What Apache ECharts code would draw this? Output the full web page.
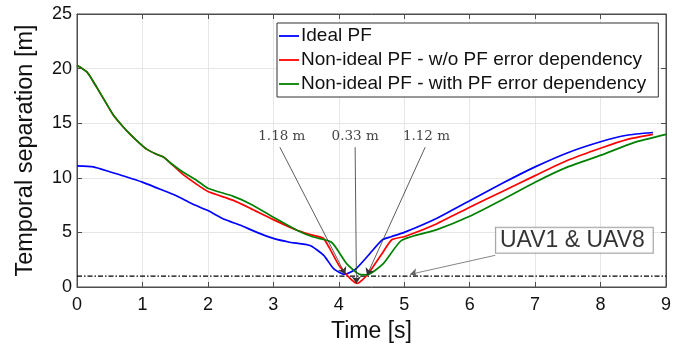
<!DOCTYPE html>
<html>
<head>
<meta charset="utf-8">
<script src="https://cdn.jsdelivr.net/npm/echarts@6/dist/echarts.min.js"></script>
<style>html,body{margin:0;padding:0;background:#fff;}#c{width:687px;height:350px;}</style>
</head>
<body>
<div id="c"></div>
<script>
// ---- data ----
const seriesNames = ['Ideal PF', 'Non-ideal PF - w/o PF error dependency', 'Non-ideal PF - with PF error dependency'];

const blueT = [0, 0.25, 0.5, 0.75, 1, 1.25, 1.5, 1.75, 2, 2.25, 2.5, 2.75, 3, 3.25, 3.56, 3.77, 3.92, 4.05, 4.1, 4.25, 4.43, 4.66, 4.8, 5, 5.5, 6, 6.5, 7, 7.5, 8, 8.4, 8.8];
const blueV = [11.1, 11.0, 10.55, 10.1, 9.6, 9.0, 8.4, 7.65, 7.0, 6.2, 5.65, 5.0, 4.45, 4.1, 3.8, 2.9, 1.68, 1.22, 1.18, 1.6, 2.75, 4.3, 4.6, 5.0, 6.3, 7.9, 9.5, 11.0, 12.3, 13.3, 13.9, 14.15];

const redT = [0, 0.08, 0.15, 0.22, 0.3, 0.4, 0.56, 0.7, 0.81, 0.95, 1.07, 1.2, 1.32, 1.42, 1.6, 1.83, 2.0, 2.39, 2.65, 3.0, 3.36, 3.6, 3.77, 4.02, 4.28, 4.43, 4.66, 4.81, 5.01, 5.5, 6, 6.5, 7, 7.5, 8.02, 8.4, 8.8];
const redV = [20.3, 20.0, 19.7, 19.1, 18.3, 17.3, 15.7, 14.7, 14.0, 13.2, 12.6, 12.2, 11.9, 11.4, 10.4, 9.4, 8.75, 7.93, 7.2, 6.17, 5.2, 4.75, 4.43, 1.83, 0.33, 1.07, 3.05, 4.33, 4.63, 5.8, 7.3, 8.75, 10.2, 11.6, 12.75, 13.5, 13.97];

const greenT = [0, 0.08, 0.15, 0.22, 0.3, 0.4, 0.56, 0.7, 0.81, 0.95, 1.07, 1.2, 1.32, 1.42, 1.6, 1.83, 2.0, 2.39, 2.65, 3.05, 3.36, 3.6, 3.89, 4.12, 4.32, 4.43, 4.68, 4.96, 5.5, 6, 6.5, 7, 7.5, 8.02, 8.5, 9.0];
const greenV = [20.3, 20.0, 19.7, 19.1, 18.3, 17.3, 15.7, 14.7, 14.0, 13.2, 12.6, 12.2, 11.9, 11.4, 10.6, 9.76, 9.05, 8.3, 7.6, 6.22, 5.2, 4.6, 4.1, 2.14, 1.16, 1.12, 2.14, 4.27, 5.25, 6.47, 8.0, 9.6, 11.0, 12.1, 13.2, 13.97];

const thresholdT = [0, 9];
const thresholdV = [1, 1];

const xTicks = [0, 1, 2, 3, 4, 5, 6, 7, 8, 9];
const yTicks = [0, 5, 10, 15, 20, 25];

// annotation texts and arrows (data coordinates)
const minLabels = ['1.18 m', '0.33 m', '1.12 m'];
const minLabelT = [3.13, 4.25, 5.34];
const minLabelV = [13.8, 13.8, 13.8];
const minArrowFromT = [3.10, 4.25, 5.32];
const minArrowFromV = [12.8, 12.8, 12.8];
const minArrowToT = [4.10, 4.27, 4.43];
const minArrowToV = [1.16, 0.31, 1.07];

const boxLabel = 'UAV1 & UAV8';
const boxT = 7.6, boxV = 4.27;
const boxArrowFrom = [6.39, 2.9];
const boxArrowTo = [5.09, 1.16];

// ---- build ----
const zip = (t, v) => t.map((x, i) => [x, v[i]]);
const font = 'Liberation Sans, Arial, Helvetica, sans-serif';
const axisColor = '#4d4d4d';

const chart = echarts.init(document.getElementById('c'), null, {renderer: 'canvas'});

const mainAxisX = {
  type: 'value', min: xTicks[0], max: xTicks[xTicks.length - 1], interval: 1,
  name: 'Time [s]', nameLocation: 'middle', nameGap: 33,
  nameTextStyle: {fontFamily: font, fontSize: 23, color: '#111'},
  axisLine: {show: true, onZero: false, lineStyle: {color: axisColor, width: 1}},
  axisTick: {show: true, inside: true, length: 5, lineStyle: {color: axisColor}},
  axisLabel: {fontFamily: font, fontSize: 18, color: '#111', margin: 9},
  splitLine: {show: true, lineStyle: {color: '#e6e6e6', width: 1}}
};
const mainAxisY = {
  type: 'value', min: yTicks[0], max: yTicks[yTicks.length - 1], interval: 5,
  name: 'Temporal separation [m]', nameLocation: 'middle', nameGap: 39,
  nameTextStyle: {fontFamily: font, fontSize: 23.5, color: '#111'},
  axisLine: {show: true, onZero: false, lineStyle: {color: axisColor, width: 1}},
  axisTick: {show: true, inside: true, length: 5, lineStyle: {color: axisColor}},
  axisLabel: {fontFamily: font, fontSize: 18, color: '#111', margin: 5},
  splitLine: {show: true, lineStyle: {color: '#e6e6e6', width: 1}}
};
const mirror = (ax, pos) => Object.assign({}, ax, {
  position: pos, name: '', axisLabel: {show: false}, splitLine: {show: false}
});

const lineSeries = (name, data, color) => ({
  name, type: 'line', data, symbol: 'none', smooth: 0.2,
  lineStyle: {color, width: 1.7}, itemStyle: {color}, z: 3, animation: false
});

const annotationPoints = minLabels.map((l, i) => ({
  value: [minLabelT[i], minLabelV[i]],
  label: {show: true, formatter: l, position: 'inside',
    fontFamily: 'DejaVu Serif, Liberation Serif, serif', fontSize: 13.5, color: '#111'}
}));
annotationPoints.push({
  value: [boxT, boxV],
  label: {show: true, formatter: boxLabel, position: 'inside',
    fontFamily: font, fontSize: 23, color: '#000',
    backgroundColor: '#fff', borderColor: '#8c8c8c', borderWidth: 1,
    padding: [2, 8, 0, 4]}
});

const arrowLines = minLabels.map((l, i) => [
  {coord: [minArrowFromT[i], minArrowFromV[i]]},
  {coord: [minArrowToT[i], minArrowToV[i]]}
]);
arrowLines.push([{coord: boxArrowFrom, lineStyle: {color: '#666'}}, {coord: boxArrowTo}]);

chart.setOption({
  animation: false,
  backgroundColor: '#fff',
  grid: {left: 77, right: 21, top: 14, bottom: 63, show: true, borderColor: axisColor, borderWidth: 1, backgroundColor: 'transparent'},
  legend: {
    data: seriesNames.map(n => ({name: n, icon: 'rect'})), orient: 'vertical', left: 277, top: 23,
    padding: [2, 12, 2, 2], itemGap: 2, itemWidth: 20, itemHeight: 1.8,
    borderColor: '#333', borderWidth: 1, backgroundColor: '#fff',
    textStyle: {fontFamily: font, fontSize: 19, lineHeight: 22, color: '#111', padding: [0, 0, 0, -3]},
    selectedMode: false
  },
  xAxis: [mainAxisX, mirror(mainAxisX, 'top')],
  yAxis: [mainAxisY, mirror(mainAxisY, 'right')],
  series: [
    lineSeries(seriesNames[0], zip(blueT, blueV), '#0000ff'),
    lineSeries(seriesNames[1], zip(redT, redV), '#ff0000'),
    lineSeries(seriesNames[2], zip(greenT, greenV), '#008000'),
    {
      name: 'threshold', type: 'line', data: zip(thresholdT, thresholdV), symbol: 'none',
      lineStyle: {color: '#000', width: 1.2, type: [5, 2, 1.5, 2]}, z: 2
    },
    {
      name: 'annotations', type: 'scatter', symbolSize: 0, data: annotationPoints, z: 5, silent: true,
      markLine: {
        silent: true, symbol: ['none', 'arrow'], symbolSize: 7,
        lineStyle: {color: '#333', width: 0.8, type: 'solid'},
        label: {show: false}, data: arrowLines, z: 4
      }
    }
  ]
});
</script>
</body>
</html>
